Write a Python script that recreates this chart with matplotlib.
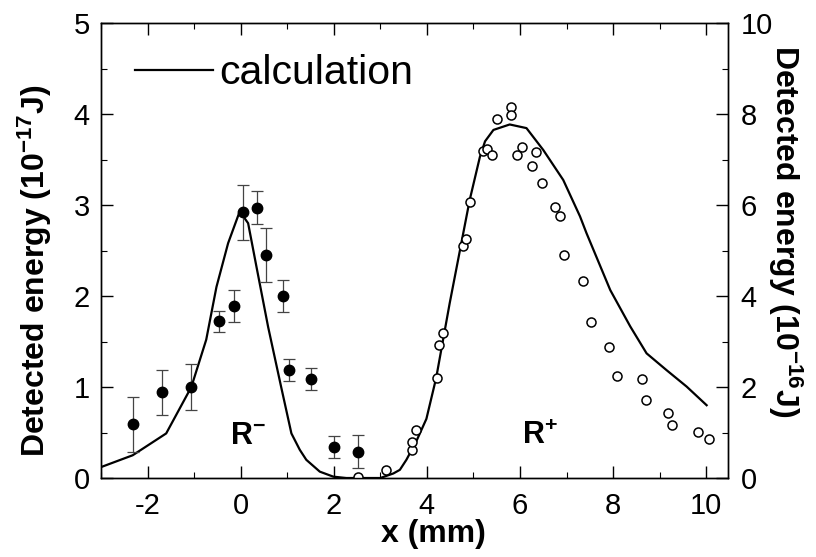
import numpy as np
import matplotlib
matplotlib.use('Agg')
import matplotlib.pyplot as plt
from matplotlib.ticker import MultipleLocator

plt.rcParams['font.family'] = ['Liberation Sans', 'DejaVu Sans']
plt.rcParams['mathtext.default'] = 'regular'
plt.rcParams['axes.unicode_minus'] = False

# R- measurements (left axis, 10^-17 J)
x_minus = [-2.32, -1.68, -1.06, -0.47, -0.14, 0.05, 0.36, 0.55, 0.91, 1.04, 1.52, 2.01, 2.52]
e_minus = [0.59, 0.94, 1.00, 1.72, 1.89, 2.92, 2.97, 2.45, 2.00, 1.19, 1.09, 0.34, 0.29]
err_minus = [0.30, 0.25, 0.25, 0.12, 0.18, 0.30, 0.18, 0.30, 0.18, 0.12, 0.12, 0.12, 0.18]

# R+ measurements (right axis, 10^-16 J)
x_plus = [2.52, 3.13, 3.67, 3.67, 3.76, 4.22, 4.27, 4.34, 4.77, 4.85, 4.92, 5.20, 5.30,
          5.40, 5.50, 5.80, 5.80, 5.94, 6.05, 6.25, 6.34, 6.47, 6.75, 6.86, 6.95, 7.36,
          7.52, 7.92, 8.08, 8.62, 8.71, 9.19, 9.26, 9.82, 10.06]
e_plus = [0.03, 0.18, 0.62, 0.80, 1.05, 2.20, 2.92, 3.18, 5.10, 5.26, 6.07, 7.19, 7.23,
          7.10, 7.90, 8.15, 7.98, 7.10, 7.27, 6.86, 7.16, 6.49, 5.96, 5.76, 4.90, 4.32,
          3.42, 2.88, 2.25, 2.17, 1.71, 1.42, 1.16, 1.02, 0.86]

# calculation, R- part (left axis)
calc_x_minus = [-3.0, -2.32, -1.60, -1.06, -0.74, -0.52, -0.27, -0.02, 0.16, 0.34, 0.59,
                0.87, 1.09, 1.27, 1.41, 1.70, 1.99, 2.27, 3.0]
calc_minus = [0.12, 0.25, 0.49, 1.00, 1.52, 2.10, 2.58, 2.93, 2.80, 2.32, 1.66,
              1.00, 0.49, 0.31, 0.20, 0.07, 0.015, 0.0, 0.0]
# calculation, R+ part (right axis)
calc_x_plus = [3.0, 3.28, 3.42, 3.56, 3.77, 3.99, 4.20, 4.49, 4.74, 4.92, 5.14, 5.25, 5.43,
               5.78, 6.14, 6.50, 6.93, 7.29, 7.43, 7.94, 8.37, 8.72, 9.15, 9.58, 10.01]
calc_plus = [0.0, 0.10, 0.18, 0.40, 0.80, 1.30, 2.20, 3.84, 5.16, 6.11, 7.06, 7.40, 7.65,
             7.77, 7.69, 7.21, 6.55, 5.75, 5.38, 4.13, 3.33, 2.74, 2.37, 2.01, 1.60]

fig = plt.figure(figsize=(8.16, 5.57), dpi=100)
ax = fig.add_axes([0.1238, 0.1418, 0.7684, 0.8169])
ax2 = ax.twinx()

line, = ax.plot(calc_x_minus, calc_minus, 'k-', lw=1.6, label='calculation')
ax2.plot(calc_x_plus, calc_plus, 'k-', lw=1.6)

ax.errorbar(x_minus, e_minus, yerr=err_minus, fmt='o', color='k', ms=7.5,
            ecolor='#444444', elinewidth=0.9, capsize=4, capthick=0.9)
ax2.plot(x_plus, e_plus, 'o', mfc='white', mec='k', ms=6.5, mew=1.1)

ax.set_xlim(-3, 10.47)
ax.set_ylim(0, 5)
ax2.set_ylim(0, 10)

ax.xaxis.set_major_locator(MultipleLocator(2))
ax.xaxis.set_minor_locator(MultipleLocator(1))
ax.yaxis.set_major_locator(MultipleLocator(1))
ax.yaxis.set_minor_locator(MultipleLocator(0.5))
ax2.yaxis.set_major_locator(MultipleLocator(2))
ax2.yaxis.set_minor_locator(MultipleLocator(1))

ax.tick_params(axis='x', which='both', direction='in', top=True, labelsize=21, pad=10)
ax.tick_params(axis='y', which='both', direction='in', right=False, labelsize=21, pad=8)
ax2.tick_params(axis='y', which='both', direction='in', labelsize=21, pad=9)
for a in (ax, ax2):
    a.tick_params(which='major', length=8.5, width=1.0)
    a.tick_params(which='minor', length=4.5, width=0.8)
    for s in a.spines.values():
        s.set_linewidth(1.0)

ax.set_xlabel('x (mm)', fontsize=23, fontweight='bold', va='center')
ax.xaxis.set_label_coords(0.53, -0.123)
ax.set_ylabel('Detected energy (10$^{-17}$J)', fontsize=23, fontweight='bold',
              va='center', ha='center')
ax.yaxis.set_label_coords(-0.105, 0.455)
ax2.set_ylabel('Detected energy (10$^{-16}$J)', fontsize=23, fontweight='bold',
               rotation=-90, va='center', ha='center')
ax2.yaxis.set_label_coords(1.091, 0.543)

ax.text(0.15, 0.46, 'R$^{-}$', fontsize=22, fontweight='bold', ha='center', va='center')
ax.text(6.42, 0.46, 'R$^{+}$', fontsize=22, fontweight='bold', ha='center', va='center')

ax.legend(handles=[line], loc='center left', bbox_to_anchor=(0.054, 0.89), frameon=False,
          fontsize=29.5, handlelength=1.9, handletextpad=0.15, borderpad=0, borderaxespad=0)

plt.savefig('out.png', dpi=100)
